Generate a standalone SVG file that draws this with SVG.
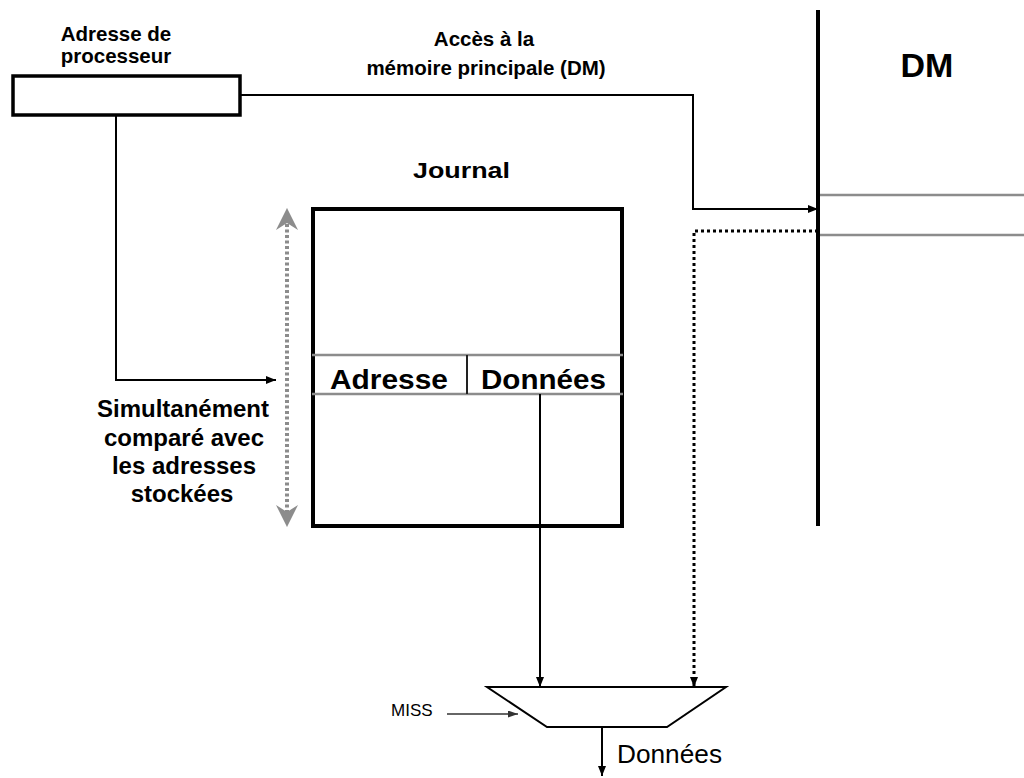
<svg xmlns="http://www.w3.org/2000/svg" width="1024" height="778" viewBox="0 0 1024 778">
<style>
.b{font-family:"Liberation Sans",Arial,sans-serif;font-weight:bold;fill:#000}
.r{font-family:"Liberation Sans",Arial,sans-serif;fill:#000}
.ln{fill:none;stroke:#000;stroke-width:2}
.gl{fill:none;stroke:#8c8c8c;stroke-width:2.5}
</style>
<defs>
<marker id="ah" markerWidth="10" markerHeight="8" refX="10" refY="4" orient="auto" markerUnits="userSpaceOnUse"><path d="M0,0 L10,4 L0,8 Z" fill="#000"/></marker>
<marker id="ahs" markerWidth="10" markerHeight="7" refX="10" refY="3.5" orient="auto" markerUnits="userSpaceOnUse"><path d="M0,0 L10,3.5 L0,7 Z" fill="#333"/></marker>
<marker id="ag" markerWidth="22" markerHeight="22" refX="22" refY="11" orient="auto" markerUnits="userSpaceOnUse"><path d="M0,0 L22,11 L0,22 L7,11 Z" fill="#8c8c8c"/></marker>
</defs>
<rect width="1024" height="778" fill="#fff"/>

<g id="processeur">
<rect x="13" y="76" width="227" height="39" fill="#fff" stroke="#000" stroke-width="3.5"/>
<text class="b" font-size="20.5" x="116" y="41" text-anchor="middle">Adresse de</text>
<text class="b" font-size="20.5" x="116" y="63" text-anchor="middle">processeur</text>
</g>

<g id="acces-label">
<text class="b" font-size="20.5" x="484" y="46" text-anchor="middle">Accès à la</text>
<text class="b" font-size="20.5" x="486" y="75" text-anchor="middle">mémoire principale (DM)</text>
</g>

<g id="dm">
<line x1="818" y1="10" x2="818" y2="526" stroke="#000" stroke-width="4"/>
<line class="gl" x1="820" y1="195" x2="1024" y2="195"/>
<line class="gl" x1="820" y1="235" x2="1024" y2="235"/>
<text class="b" font-size="34" x="927" y="77" text-anchor="middle">DM</text>
</g>

<g id="journal">
<text class="b" font-size="22" x="413" y="178" textLength="97" lengthAdjust="spacingAndGlyphs">Journal</text>
<rect x="313" y="209" width="309" height="317" fill="#fff" stroke="#000" stroke-width="4"/>
<line class="gl" x1="312" y1="355" x2="623" y2="355"/>
<line class="gl" x1="312" y1="394" x2="623" y2="394"/>
<line x1="467" y1="355" x2="467" y2="394" stroke="#222" stroke-width="2"/>
<text class="b" font-size="27" x="330" y="389" textLength="118" lengthAdjust="spacingAndGlyphs">Adresse</text>
<text class="b" font-size="27" x="481" y="389" textLength="125" lengthAdjust="spacingAndGlyphs">Données</text>
</g>

<g id="comparaison">
<text class="b" font-size="24" x="183" y="417" text-anchor="middle">Simultanément</text>
<text class="b" font-size="24" x="184" y="446" text-anchor="middle">comparé avec</text>
<text class="b" font-size="24" x="184" y="474" text-anchor="middle">les adresses</text>
<text class="b" font-size="24" x="182" y="502" text-anchor="middle">stockées</text>
</g>

<g id="mux">
<polygon points="487,687 726,687 667,727 547,727" fill="#fff" stroke="#000" stroke-width="2"/>
<text class="r" font-size="17" x="391" y="716">MISS</text>
<text class="r" font-size="25" x="617" y="763" textLength="105" lengthAdjust="spacingAndGlyphs">Données</text>
</g>

<g id="connectors">
<polyline class="ln" points="240,95 693,95 693,209 818,209" marker-end="url(#ah)"/>
<polyline class="ln" points="116,116 116,380 276,380" marker-end="url(#ah)"/>
<line class="ln" x1="540" y1="394" x2="540" y2="687" marker-end="url(#ah)"/>
<polyline points="818,231 694,231 694,687" fill="none" stroke="#000" stroke-width="3" stroke-dasharray="3,3" marker-end="url(#ah)"/>
<line x1="287" y1="224" x2="287" y2="512" stroke="#8c8c8c" stroke-width="4" stroke-dasharray="3,2.5"/>
<line x1="287" y1="240" x2="287" y2="208" stroke="#8c8c8c" stroke-width="0.1" marker-end="url(#ag)"/>
<line x1="287" y1="495" x2="287" y2="527" stroke="#8c8c8c" stroke-width="0.1" marker-end="url(#ag)"/>
<line x1="447" y1="714" x2="518" y2="714" stroke="#333" stroke-width="1.5" marker-end="url(#ahs)"/>
<line class="ln" x1="602" y1="727" x2="602" y2="776" marker-end="url(#ah)"/>
</g>
</svg>
